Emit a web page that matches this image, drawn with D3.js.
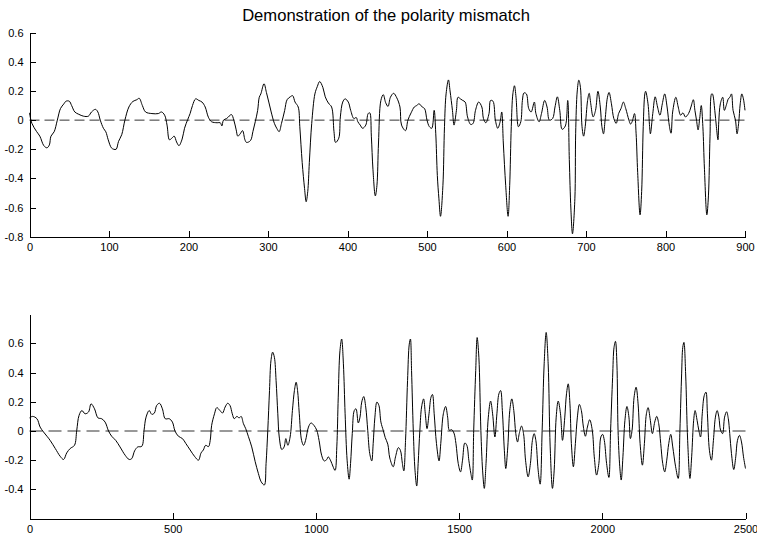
<!DOCTYPE html>
<html>
<head>
<meta charset="utf-8" />
<title>Polarity mismatch</title>
<style>
    body { margin: 0; background: #fff; }
    svg text { font-family: "Liberation Sans", Arial, sans-serif; fill: #000; }
    .tick line, .domain { stroke: #000; shape-rendering: crispEdges; }
</style>
</head>
<body>
<svg width="757" height="536"></svg>

<script src="https://cdn.jsdelivr.net/npm/d3@7/dist/d3.min.js"></script>
<script>

var titre = 'Demonstration of the polarity mismatch';

// upper panel : sample index and value
var hautX = [0, 3, 9, 13, 18, 22, 25, 27, 31, 35, 39, 43, 46, 50, 53, 57, 62, 68, 74, 78,
    83, 86, 89, 93, 96, 99, 103, 106, 109, 112, 116, 120, 125, 130, 135, 138, 142, 146, 154, 162,
    166, 170, 173, 176, 179, 182, 185, 188, 192, 195, 199, 202, 205, 209, 213, 217, 221, 225, 229, 236,
    240, 242, 244, 248, 254, 257, 260, 262, 265, 268, 271, 273, 278, 281, 284, 287, 289, 291, 295, 298,
    301, 304, 308, 311, 314, 317, 321, 324, 328, 331, 334, 338, 340, 343, 346, 348, 350, 352, 355, 359,
    362, 365, 369, 372, 376, 380, 383, 385, 389, 391, 394, 397, 401, 404, 408, 411, 413, 416, 419, 423,
    426, 428, 430, 432, 435, 437, 439, 442, 445, 448, 451, 454, 458, 462, 466, 468, 473, 476, 480, 484,
    487, 490, 494, 497, 500, 503, 506, 509, 511, 513, 515, 517, 520, 522, 524, 527, 529, 532, 534, 537,
    539, 542, 545, 548, 551, 555, 558, 561, 565, 569, 571, 574, 578, 580, 583, 586, 589, 592, 594, 596,
    599, 602, 604, 606, 608, 610, 612, 615, 618, 620, 622, 625, 628, 631, 635, 637, 641, 644, 648, 651,
    654, 658, 661, 664, 667, 670, 674, 677, 679, 681, 683, 686, 687, 689, 691, 693, 695, 697, 699, 702,
    704, 706, 709, 712, 715, 718, 720, 722, 724, 727, 729, 732, 735, 738, 741, 744, 747, 750, 754, 756,
    758, 761, 763, 765, 768, 770, 772, 774, 775, 778, 780, 781, 784, 787, 790, 793, 796, 799, 802, 805,
    807, 809, 813, 816, 819, 822, 825, 829, 832, 835, 837, 839, 841, 843, 845, 847, 849, 852, 854, 856,
    858, 859, 862, 864, 866, 867, 869, 872, 874, 877, 879, 881, 883, 885, 888, 890, 892, 894, 896, 898,
    900];
var hautY = [0.05, -0.022, -0.079, -0.11, -0.175, -0.19, -0.17, -0.11, -0.08, 0, 0.08, 0.11, 0.13, 0.13, 0.10, 0.056, 0.04, 0.027, 0.027, 0.056,
    0.074, 0.056, 0, -0.056, -0.08, -0.135, -0.19, -0.2, -0.2, -0.146, -0.1, 0, 0.09, 0.128, 0.14, 0.15, 0.10, 0.056, 0.045, 0.045,
    0.056, 0.034, -0.034, -0.135, -0.124, -0.11, -0.15, -0.175, -0.13, -0.056, 0.004, 0.045, 0.10, 0.146, 0.135, 0.124, 0.09, 0.02, -0.011, -0.018,
    -0.018, -0.04, 0, 0.011, 0.038, 0, -0.067, -0.11, -0.094, -0.072, -0.135, -0.153, -0.14, -0.079, -0.011, 0.067, 0.157, 0.18, 0.25, 0.19,
    0.124, 0.056, -0.022, -0.056, -0.079, -0.022, 0.067, 0.14, 0.16, 0.168, 0.124, 0.09, -0.045, -0.29, -0.47, -0.56, -0.49, -0.29, -0.022, 0.18,
    0.23, 0.265, 0.225, 0.16, 0.117, 0.09, -0.079, -0.153, -0.124, 0.022, 0.124, 0.146, 0.124, 0.067, 0.011, 0.018, -0.011, -0.034, -0.056, -0.034,
    0.045, 0.05, -0.11, -0.337, -0.52, -0.45, -0.157, 0.135, 0.175, 0.12, 0.094, 0.157, 0.184, 0.153, 0.09, -0.034, -0.072, 0, 0.05, 0.09,
    0.10, 0.112, 0.09, 0.079, 0, -0.045, -0.056, 0.067, -0.09, -0.38, -0.54, -0.66, -0.45, -0.045, 0.18, 0.276, 0.2, 0.067, -0.034, 0.067,
    0.157, 0.146, 0.135, 0.124, 0.022, -0.03, -0.022, 0.067, 0.124, 0.09, 0.011, -0.018, 0.045, 0.135, 0.13, 0, -0.056, -0.011, 0.056, -0.157,
    -0.45, -0.66, -0.45, -0.045, 0.18, 0.236, 0.157, -0.045, -0.011, 0.135, 0.187, 0.18, 0.079, 0.056, 0.124, 0.045, -0.011, 0.045, 0.135, 0.09,
    0, 0.011, 0.09, 0.16, 0.067, -0.063, -0.04, 0.135, -0.27, -0.61, -0.78, -0.54, -0.09, 0.2, 0.274, 0.225, -0.045, -0.11, -0.045, 0.135,
    0.184, 0.112, 0.022, 0.067, 0.198, 0.09, -0.045, -0.094, 0, 0.157, 0.19, 0.112, 0.011, -0.022, 0.045, 0.079, 0.124, 0.079, 0, -0.027,
    -0.011, 0.045, -0.09, -0.36, -0.65, -0.49, -0.045, 0.18, 0.198, 0.112, -0.045, -0.094, 0.045, 0.16, 0.09, 0.034, 0.112, 0.18, 0.09, -0.045,
    -0.09, 0.056, 0.157, 0.09, 0.034, 0.05, 0.022, 0.045, 0.09, 0.14, 0.067, 0, -0.067, 0.011, 0.1, -0.045, -0.337, -0.65, -0.52, -0.11,
    0.18, 0.18, 0.067, -0.045, -0.135, -0.011, 0.112, 0.157, 0.067, 0.112, 0.146, 0.157, 0.18, 0.067, 0, -0.094, -0.022, 0.112, 0.18, 0.146,
    0.067];

// lower panel
var basX = [0, 11, 26, 37, 49, 61, 72, 90, 107, 119, 130, 142, 157, 165, 173, 183, 194, 206, 215, 227,
    239, 252, 264, 276, 287, 301, 316, 334, 348, 357, 367, 378, 392, 400, 407, 418, 427, 436, 444, 454,
    464, 474, 488, 499, 508, 520, 534, 546, 561, 576, 590, 599, 607, 615, 625, 631, 636, 646, 654, 665,
    674, 683, 692, 700, 708, 715, 724, 732, 739, 747, 755, 764, 776, 788, 799, 809, 820, 826, 832, 838,
    843, 849, 855, 861, 867, 872, 881, 889, 895, 902, 910, 918, 925, 931, 936, 942, 950, 957, 964, 974,
    983, 993, 1003, 1011, 1020, 1029, 1038, 1043, 1052, 1059, 1067, 1073, 1078, 1084, 1090, 1096, 1102, 1109, 1116, 1121,
    1127, 1134, 1140, 1148, 1154, 1160, 1167, 1174, 1181, 1188, 1195, 1200, 1206, 1213, 1220, 1227, 1235, 1242, 1251, 1258,
    1270, 1278, 1288, 1295, 1302, 1307, 1313, 1320, 1326, 1330, 1334, 1340, 1346, 1352, 1357, 1363, 1369, 1376, 1382, 1388,
    1395, 1402, 1407, 1413, 1421, 1430, 1436, 1445, 1453, 1460, 1466, 1474, 1482, 1489, 1497, 1505, 1512, 1520, 1527, 1534,
    1541, 1546, 1551, 1558, 1563, 1569, 1576, 1582, 1588, 1594, 1602, 1610, 1617, 1625, 1632, 1639, 1645, 1651, 1658, 1663,
    1670, 1677, 1684, 1691, 1698, 1704, 1710, 1718, 1725, 1732, 1741, 1749, 1756, 1762, 1768, 1776, 1783, 1790, 1797, 1804,
    1811, 1818, 1826, 1832, 1839, 1846, 1854, 1861, 1869, 1875, 1881, 1887, 1892, 1899, 1906, 1913, 1920, 1927, 1934, 1941,
    1948, 1956, 1965, 1972, 1980, 1988, 1995, 2001, 2007, 2015, 2023, 2029, 2036, 2041, 2046, 2051, 2055, 2061, 2066, 2072,
    2079, 2086, 2093, 2098, 2104, 2111, 2118, 2125, 2132, 2140, 2147, 2154, 2160, 2167, 2175, 2183, 2190, 2197, 2204, 2211,
    2218, 2225, 2232, 2239, 2246, 2256, 2265, 2271, 2277, 2281, 2285, 2291, 2298, 2306, 2312, 2319, 2324, 2331, 2337, 2343,
    2349, 2356, 2362, 2367, 2374, 2381, 2388, 2395, 2401, 2407, 2413, 2420, 2427, 2434, 2440, 2445, 2451, 2459, 2466, 2472,
    2479, 2486, 2493, 2500];
var basY = [0.09, 0.10, 0.084, 0.027, -0.007, -0.036, -0.064, -0.12, -0.173, -0.195, -0.15, -0.12, -0.098, 0.005, 0.107, 0.14, 0.118, 0.13, 0.186, 0.152,
    0.09, 0.084, 0.061, 0, -0.036, -0.064, -0.109, -0.166, -0.195, -0.189, -0.136, -0.109, -0.105, 0.005, 0.095, 0.14, 0.114, 0.123, 0.175, 0.19,
    0.152, 0.084, 0.084, 0.061, 0, -0.036, -0.052, -0.086, -0.13, -0.173, -0.2, -0.15, -0.13, -0.098, -0.107, -0.064, 0.039, 0.118, 0.16, 0.14,
    0.123, 0.164, 0.19, 0.175, 0.118, 0.084, 0.1, 0.09, 0.1, 0.05, 0.016, -0.036, -0.109, -0.21, -0.29, -0.348, -0.37, -0.223, 0.005, 0.277,
    0.48, 0.54, 0.505, 0.345, 0.118, -0.041, -0.127, -0.109, -0.052, -0.098, -0.041, 0.14, 0.277, 0.334, 0.277, 0.118, -0.064, -0.098, -0.064, 0.027,
    0.055, 0.039, 0.005, -0.064, -0.166, -0.205, -0.195, -0.177, -0.205, -0.24, -0.27, -0.109, 0.232, 0.55, 0.63, 0.46, 0.118, -0.2, -0.33, -0.223,
    -0.018, 0.14, 0.152, 0.055, 0.095, 0.198, 0.236, 0.164, 0.005, -0.155, -0.205, -0.086, 0.095, 0.198, 0.175, 0.061, 0.005, -0.045, -0.09, -0.185,
    -0.245, -0.177, -0.114, -0.132, -0.223, -0.273, -0.064, 0.345, 0.595, 0.63, 0.414, 0.005, -0.268, -0.377, -0.223, 0.005, 0.164, 0.22, 0.118, 0.016,
    0.118, 0.232, 0.25, 0.118, -0.086, -0.205, -0.086, 0.118, 0.168, 0.095, 0.005, 0.009, -0.014, -0.086, -0.223, -0.28, -0.2, -0.082, -0.098, -0.2,
    -0.29, -0.336, 0.005, 0.414, 0.64, 0.505, 0.005, -0.268, -0.393, -0.223, 0.095, 0.205, 0.118, -0.041, 0.118, 0.255, 0.277, 0.14, -0.132, -0.257,
    -0.109, 0.14, 0.22, 0.14, -0.018, -0.075, -0.018, 0.034, -0.018, -0.2, -0.314, -0.223, -0.064, -0.018, -0.064, -0.268, -0.364, 0.005, 0.46, 0.675,
    0.46, -0.109, -0.393, -0.268, 0.095, 0.205, 0.118, -0.064, 0.095, 0.255, 0.323, 0.186, -0.086, -0.245, -0.086, 0.095, 0.182, 0.14, 0.027, -0.036,
    0.027, 0.077, 0.005, -0.177, -0.302, -0.223, -0.041, -0.023, -0.064, -0.223, -0.318, 0.005, 0.368, 0.573, 0.614, 0.46, 0.005, -0.245, -0.336, -0.177,
    0.073, 0.168, 0.095, -0.052, 0.005, 0.232, 0.3, 0.186, -0.086, -0.234, -0.086, 0.118, 0.16, 0.084, -0.018, 0.061, 0.1, 0.05, -0.086, -0.223,
    -0.28, -0.2, -0.086, -0.023, -0.109, -0.245, -0.325, 0.005, 0.391, 0.573, 0.607, 0.391, -0.064, -0.325, -0.177, 0.073, 0.14, 0.073, 0.005, -0.041,
    0.118, 0.243, 0.266, 0.118, -0.132, -0.2, -0.064, 0.095, 0.14, 0.095, 0.005, -0.018, 0.095, 0.132, 0.084, -0.018, -0.155, -0.264, -0.177, -0.064,
    -0.03, -0.075, -0.177, -0.257];

var hautTicksX = [0, 100, 200, 300, 400, 500, 600, 700, 800, 900];
var hautTicksY = [-0.8, -0.6, -0.4, -0.2, 0, 0.2, 0.4, 0.6];
var basTicksX = [0, 500, 1000, 1500, 2000, 2500];
var basTicksY = [-0.4, -0.2, 0, 0.2, 0.4, 0.6];

var svg = d3.select('svg');

svg.append('text')
    .attr('x', 386)
    .attr('y', 21)
    .attr('text-anchor', 'middle')
    .style('font-size', '16.6px')
    .text(titre);

function panneau(cadre, xs, ys, domX, domY, ticksX, ticksY, tirets) {
    var x = d3.scaleLinear().domain(domX).range([cadre.gauche, cadre.droite]);
    var y = d3.scaleLinear().domain(domY).range([cadre.bas, cadre.haut]);

    var g = svg.append('g');

    g.append('line')
        .attr('x1', x(domX[0]))
        .attr('x2', x(domX[1]))
        .attr('y1', y(0))
        .attr('y2', y(0))
        .attr('stroke', '#333')
        .attr('stroke-width', 1)
        .attr('stroke-dasharray', tirets);

    var points = xs.map(function (d, i) { return [d, ys[i]]; });

    var ligne = d3.line()
        .x(function (d) { return x(d[0]); })
        .y(function (d) { return y(d[1]); })
        .curve(d3.curveCatmullRom.alpha(0.5));

    g.append('path')
        .datum(points)
        .attr('d', ligne)
        .attr('fill', 'none')
        .attr('stroke', '#000')
        .attr('stroke-width', 1);

    var fmt = function (d) { return String(Math.round(d * 10) / 10); };

    g.append('g')
        .attr('transform', 'translate(0,' + cadre.bas + ')')
        .call(d3.axisBottom(x).tickValues(ticksX).tickFormat(fmt)
            .tickSizeInner(-6).tickSizeOuter(0).tickPadding(7))
        .selectAll('text').style('font-size', '11px');

    g.append('g')
        .attr('transform', 'translate(' + cadre.gauche + ',0)')
        .call(d3.axisLeft(y).tickValues(ticksY).tickFormat(fmt)
            .tickSizeInner(-6).tickSizeOuter(0).tickPadding(6))
        .selectAll('text').style('font-size', '11px');

    svg.selectAll('.domain').attr('fill', 'none');
    svg.selectAll('.tick text').attr('font-family', null);
}

panneau({ gauche: 29.5, droite: 745, haut: 32.7, bas: 236.7 },
    hautX, hautY, [0, 900], [-0.8, 0.6], hautTicksX, hautTicksY, '10,5');

panneau({ gauche: 29.5, droite: 745.5, haut: 314.2, bas: 518.6 },
    basX, basY, [0, 2500], [-0.6, 0.8], basTicksX, basTicksY, '13,6');

</script>
</body>
</html>
